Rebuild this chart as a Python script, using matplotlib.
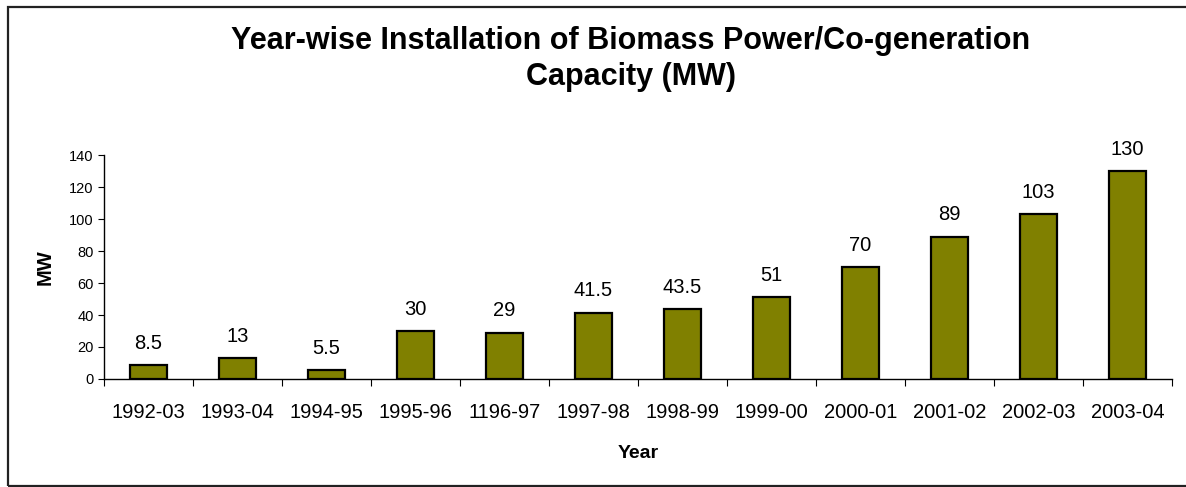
import matplotlib
matplotlib.use("Agg")
import matplotlib.pyplot as plt
from matplotlib.patches import Rectangle
import numpy as np

# === DATA ===
years = ["1992-03", "1993-04", "1994-95", "1995-96", "1196-97", "1997-98",
         "1998-99", "1999-00", "2000-01", "2001-02", "2002-03", "2003-04"]
capacity = [8.5, 13, 5.5, 30, 29, 41.5, 43.5, 51, 70, 89, 103, 130]
value_labels = ["8.5", "13", "5.5", "30", "29", "41.5", "43.5", "51",
                "70", "89", "103", "130"]
y_ticks = [0, 20, 40, 60, 80, 100, 120, 140]

plt.rcParams["font.family"] = ["Liberation Sans", "DejaVu Sans"]


def main():
    fig = plt.figure(figsize=(11.86, 4.87), dpi=100)
    ax = fig.add_axes([104 / 1186, 1 - 379 / 487, (1172 - 104) / 1186, (379 - 155) / 487])

    x = np.arange(len(years))
    bars = ax.bar(x, capacity, width=0.41, color="#808000",
                  edgecolor="black", linewidth=1.6)

    for bar, lab in zip(bars, value_labels):
        ax.annotate(lab, (bar.get_x() + bar.get_width() / 2, bar.get_height()),
                    xytext=(0, 9), textcoords="offset points",
                    ha="center", va="bottom", fontsize=14.5)

    # axes styling
    ax.set_xlim(-0.5, len(years) - 0.5)
    ax.set_ylim(0, 140)
    ax.set_yticks(y_ticks)
    ax.tick_params(axis="y", labelsize=10.5, length=4, direction="out")

    # tick marks between categories, labels at the bar centers
    ax.set_xticks(np.arange(-0.5, len(years)), labels=[])
    ax.set_xticks(x, labels=years, minor=True)
    ax.tick_params(axis="x", which="major", length=5, direction="out")
    ax.tick_params(axis="x", which="minor", length=0, labelsize=14.5, pad=17)

    for side in ["top", "right"]:
        ax.spines[side].set_visible(False)
    ax.spines["left"].set_linewidth(1)
    ax.spines["bottom"].set_linewidth(1)

    ax.set_xlabel("Year", fontsize=14, fontweight="bold", labelpad=17)
    ax.set_ylabel("MW", fontsize=14.5, fontweight="bold", labelpad=10)

    fig.text(631 / 1186, 1 - 59 / 487,
             "Year-wise Installation of Biomass Power/Co-generation\nCapacity (MW)",
             ha="center", va="center", fontsize=22, fontweight="bold",
             linespacing=1.3)

    # outer frame of the chart
    fig.add_artist(Rectangle((8 / 1186, 1 / 487), 1.2, 1 - 8 / 487,
                             transform=fig.transFigure, fill=False,
                             edgecolor="#222222", linewidth=1.6))

    fig.savefig("out.png", dpi=100)


if __name__ == "__main__":
    main()
